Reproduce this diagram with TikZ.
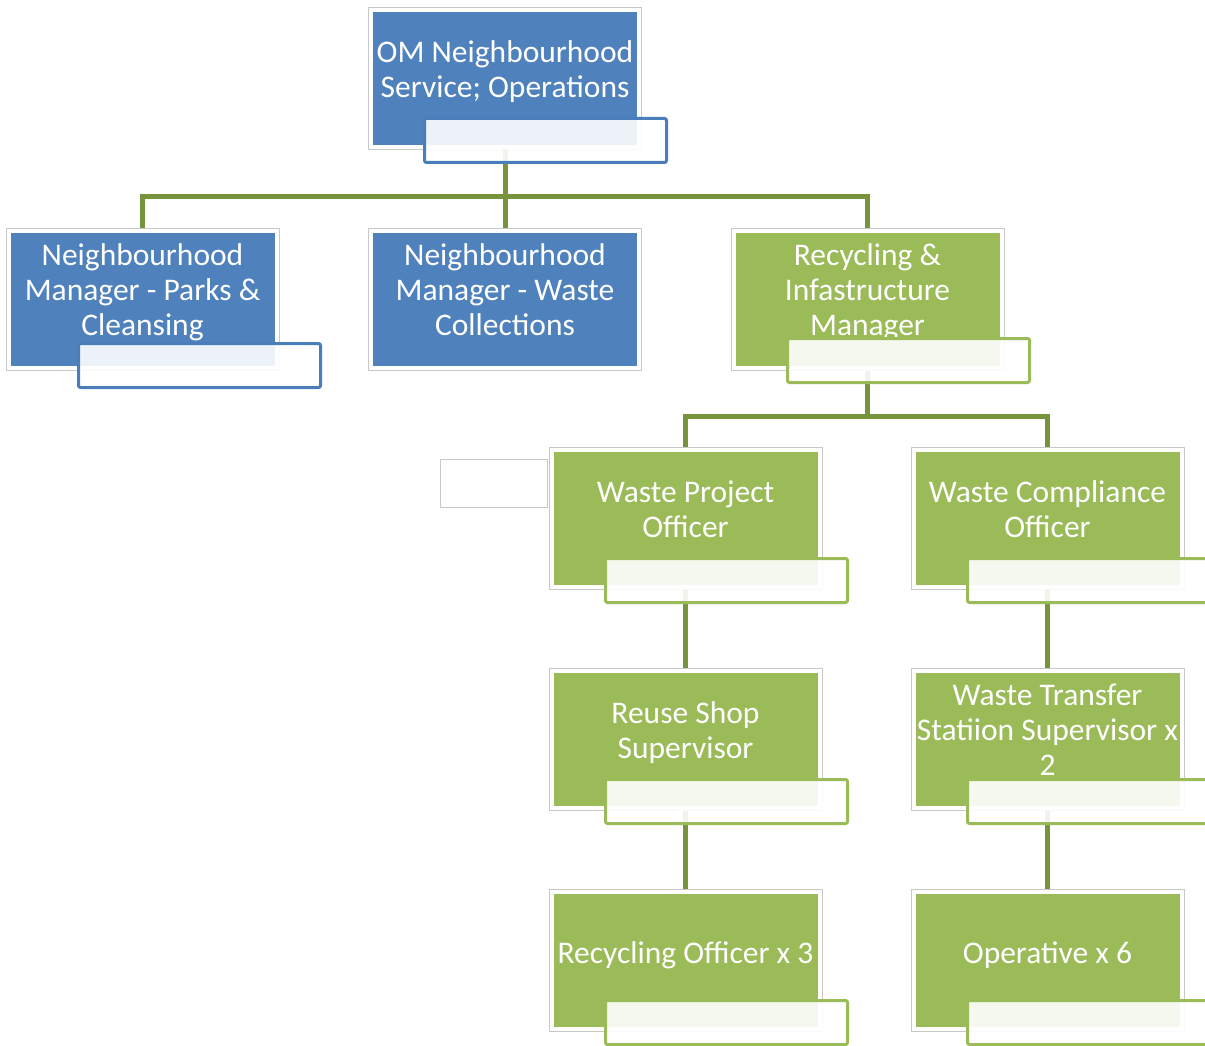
\documentclass[tikz,border=0pt]{standalone}
\usepackage{fontspec}
\setmainfont{Carlito}
\definecolor{omblue}{HTML}{4F81BD}
\definecolor{omgreen}{HTML}{9BBB59}
\definecolor{lblblue}{HTML}{4A7EBB}
\definecolor{connline}{RGB}{119,147,60}
\definecolor{framegray}{RGB}{200,200,200}

\begin{document}
\begin{tikzpicture}[x=1pt,y=-1pt,
    orgframe/.style={draw=framegray,line width=1pt,fill=white,minimum width=273pt,minimum height=142pt,inner sep=0pt},
    orgfill/.style={minimum width=264pt,minimum height=133pt,inner sep=0pt},
    orgtext/.style={text=white,align=center,inner sep=0pt,font=\fontsize{31.5}{35}\selectfont,
      execute at begin node=\strut,execute at end node=\strut},
    orgline/.style={draw=connline,line width=5pt},
    orglabel/.style={line width=3pt,fill=white,fill opacity=.9,rounded corners=2pt,
      minimum width=242pt,minimum height=44pt,inner sep=0pt}]
    \clip(0,0)rectangle(1205,1046);
    \useasboundingbox(0,0)rectangle(1205,1046);
    % assistant box, behind the project officer
    \node[draw=framegray,line width=1pt,fill=white,minimum width=107pt,minimum height=48pt,inner sep=0pt](asst)at(494,483.5){};
    % boxes
    \foreach\nm/\x/\y/\col/\txt in{
      top/505/78.5/omblue/{OM Neighbourhood\\Service; Operations},
      park/142.5/299/omblue/{Neighbourhood\\Manager - Parks \&\\Cleansing},
      coll/505/299/omblue/{Neighbourhood\\Manager - Waste\\Collections},
      rec/867.5/299/omgreen/{Recycling \&\\Infastructure\\Manager},
      wpo/685.5/518.5/omgreen/{Waste Project\\Officer},
      wco/1047.5/518.5/omgreen/{Waste Compliance\\Officer},
      reuse/685.5/739.5/omgreen/{Reuse Shop\\Supervisor},
      wts/1047.5/739.5/omgreen/{Waste Transfer\\Statiion Supervisor x\\2},
      recoff/685.5/960.5/omgreen/{Recycling Officer x 3},
      oper/1047.5/960.5/omgreen/{Operative x 6}}
    {
      \node[orgframe](\nm-f)at(\x,\y){};
      \node[orgfill,fill=\col](\nm)at(\x,\y){};
      \node[orgtext](\nm-t)at(\x,\y-4.5){\txt};
    }
    % connectors
    \coordinate(bar1)at(505,196.5);
    \coordinate(bar2)at(867.5,416);
    \draw[orgline](top-f.south)--(bar1);
    \draw[orgline](park-f.north)|-(bar1)-|(rec-f.north);
    \draw[orgline](bar1)--(coll-f.north);
    \draw[orgline](rec-f.south)--(bar2);
    \draw[orgline](wpo-f.north)|-(bar2)-|(wco-f.north);
    \draw[orgline](wpo-f.south)--(reuse-f.north);
    \draw[orgline](reuse-f.south)--(recoff-f.north);
    \draw[orgline](wco-f.south)--(wts-f.north);
    \draw[orgline](wts-f.south)--(oper-f.north);
    % empty name boxes
    \foreach\nm/\x/\y/\col in{
      top/545.5/140.5/lblblue,park/199.5/365.5/lblblue,rec/908.5/360.5/omgreen,
      wpo/726.5/580.5/omgreen,wco/1088.5/580.5/omgreen,
      reuse/726.5/801.5/omgreen,wts/1088.5/801.5/omgreen,
      recoff/726.5/1022.5/omgreen,oper/1088.5/1022.5/omgreen}
    \node[orglabel,draw=\col](\nm-l)at(\x,\y){};
  \end{tikzpicture}
\end{document}
